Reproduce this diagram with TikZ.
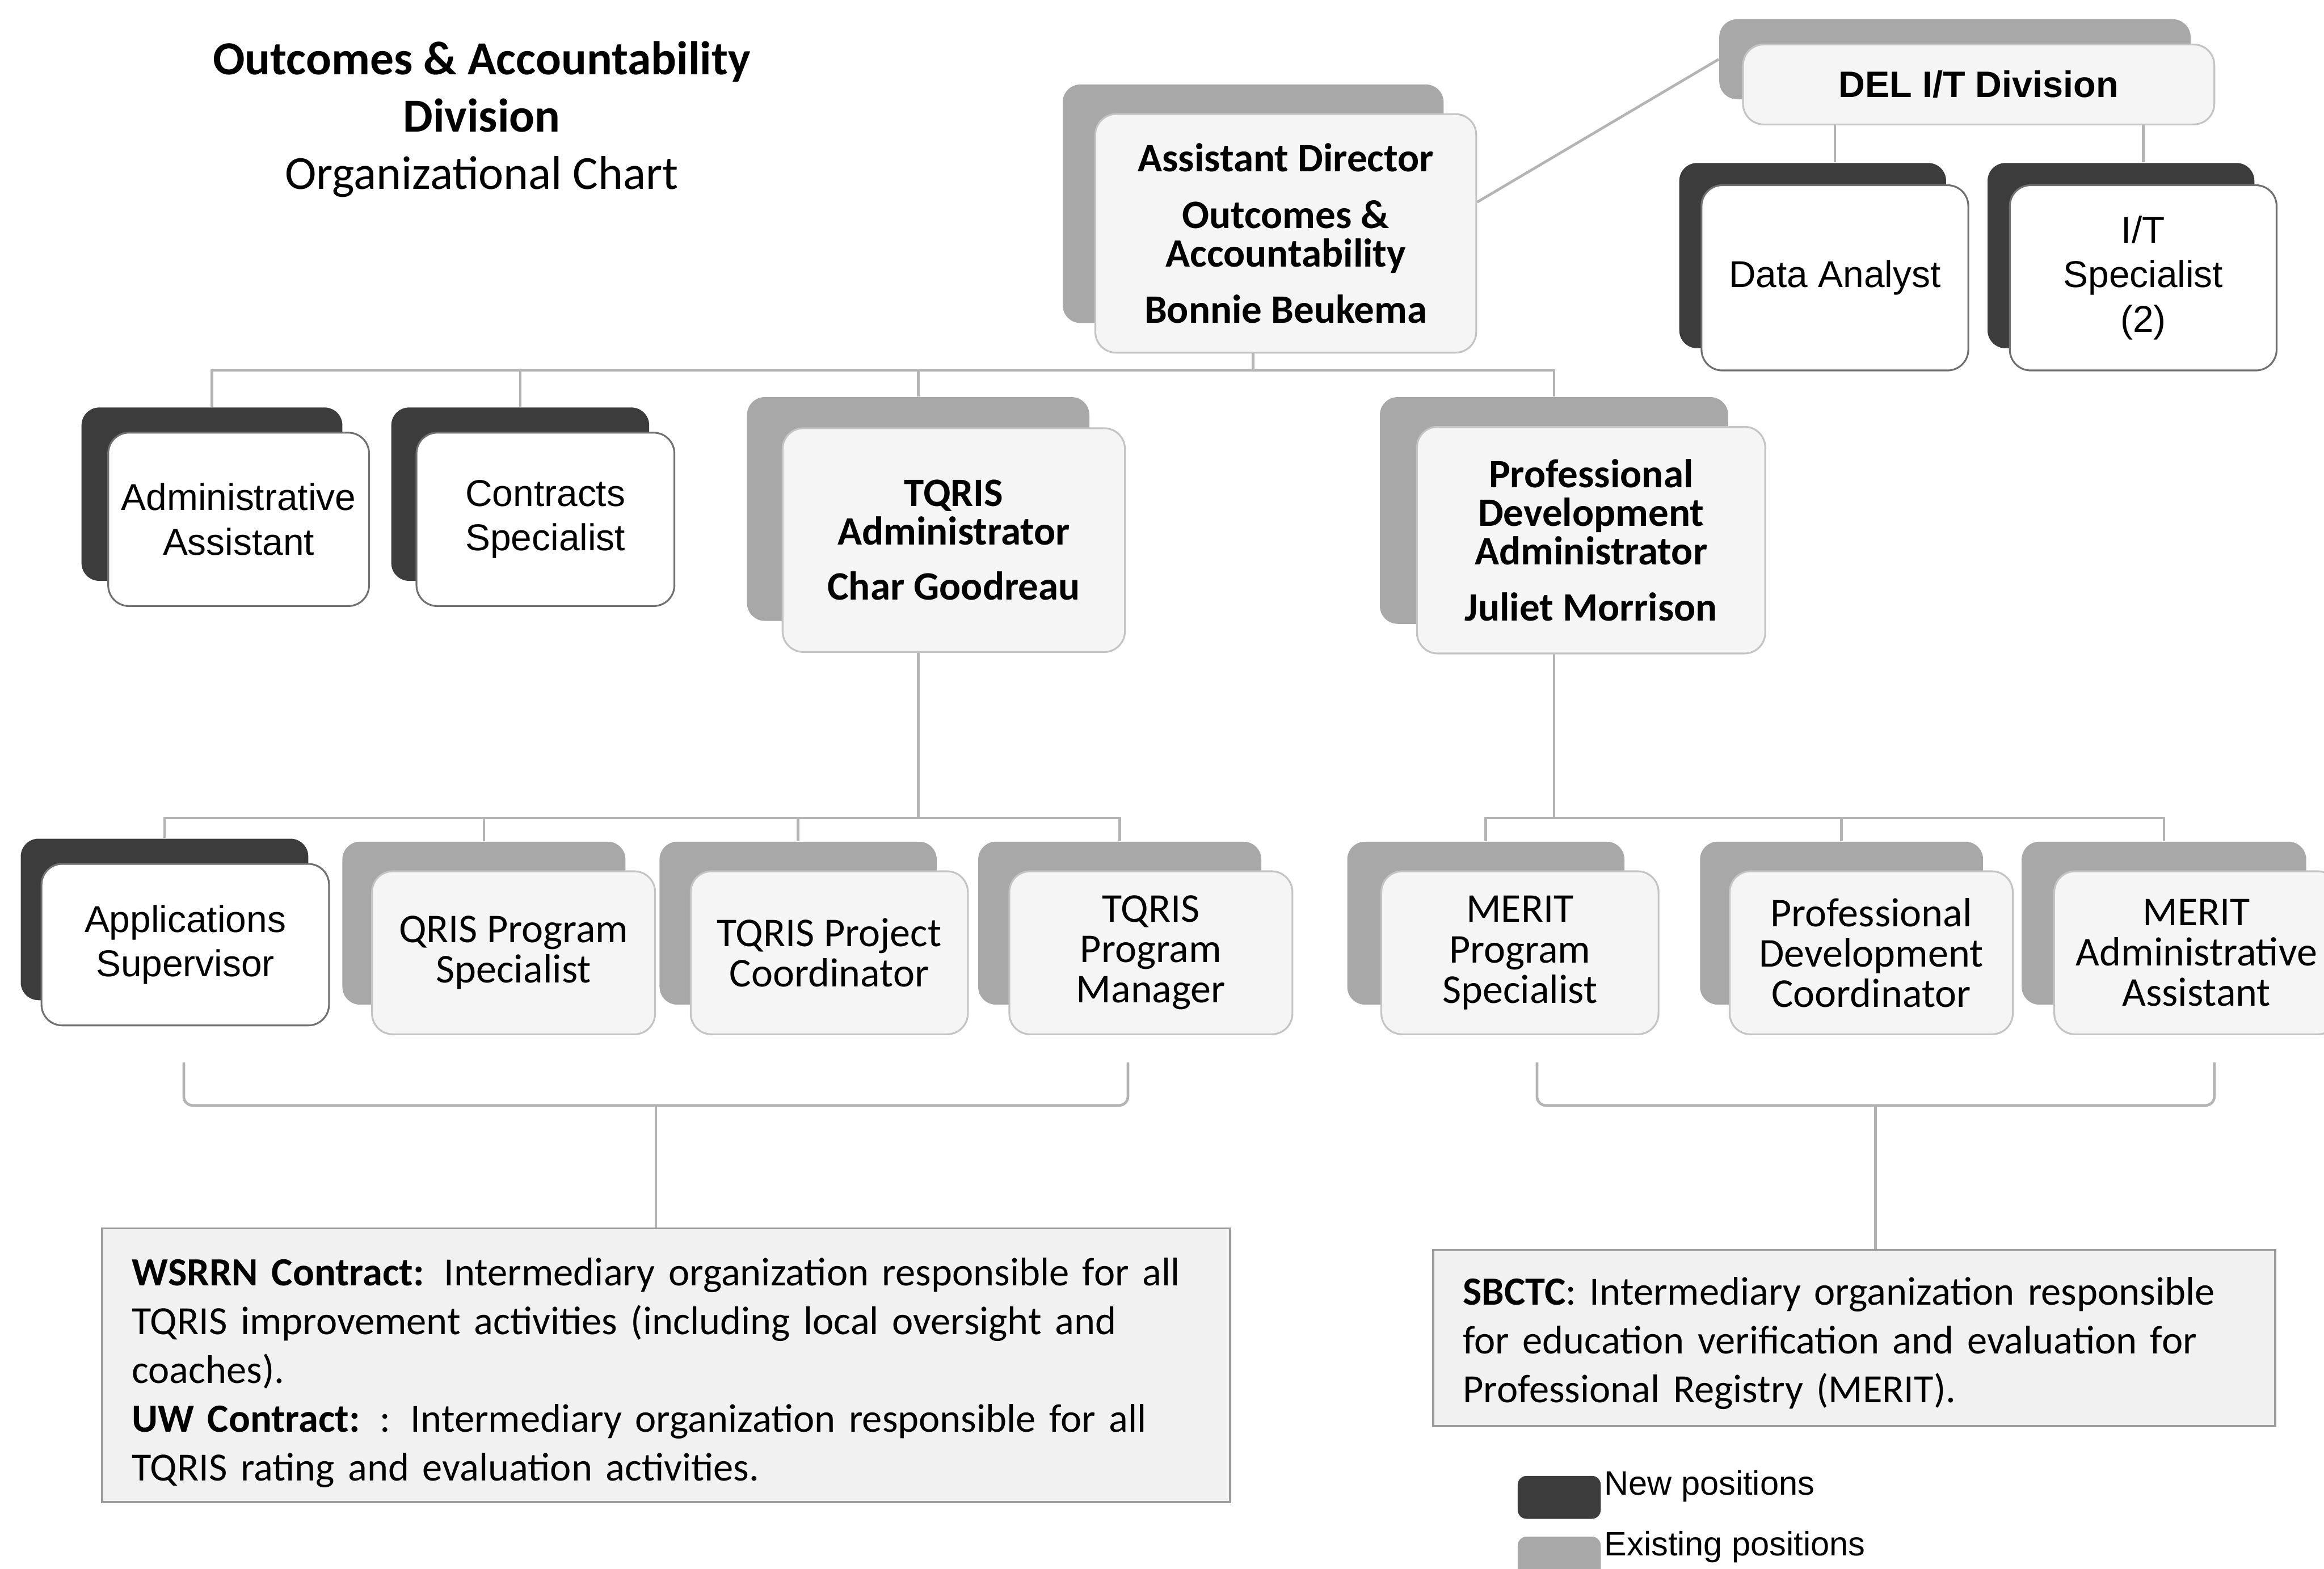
\documentclass[tikz,border=0pt]{standalone}
\usepackage{fontspec}
\setmainfont{Carlito}
\newfontfamily\arialfont{Liberation Sans}
\usetikzlibrary{calc}

\definecolor{newc}{HTML}{3C3C3C}
\definecolor{oldc}{HTML}{A8A8A8}
\definecolor{newedge}{HTML}{707070}
\definecolor{oldedge}{HTML}{C4C4C4}
\definecolor{oldfill}{HTML}{F5F5F5}
\definecolor{linkc}{HTML}{B4B4B4}
\definecolor{notefill}{HTML}{F1F1F1}
\definecolor{noteedge}{HTML}{9C9C9C}

\pgfdeclarelayer{background}
\pgfsetlayers{background,main}

\tikzset{
  conn/.style={draw=linkc, line width=0.9pt},
  shade base/.style={rounded corners=6pt, inner sep=0pt, draw=none},
  new shadow/.style={shade base, fill=newc},
  old shadow/.style={shade base, fill=oldc},
  head shadow/.style={old shadow},
  dept shadow/.style={old shadow},
  front base/.style={rounded corners=7pt, inner sep=0pt, align=center, line width=0.6pt, text=black},
  new front/.style={front base, fill=white, draw=newedge,
    font=\arialfont\fontsize{12.6}{15}\selectfont},
  old front/.style={front base, fill=oldfill, draw=oldedge,
    font=\fontsize{13.8}{13.6}\selectfont},
  head front/.style={front base, fill=oldfill, draw=oldedge,
    font=\bfseries\fontsize{13.6}{13}\selectfont},
  dept front/.style={front base, fill=oldfill, draw=oldedge,
    font=\arialfont\bfseries\fontsize{12.4}{14}\selectfont},
  note/.style={draw=noteedge, fill=notefill, line width=0.7pt, align=left,
    inner xsep=10pt, inner ysep=0pt, font=\fontsize{13.5}{16.5}\selectfont},
  swatch/.style={rounded corners=3pt, inner sep=0pt, minimum width=28pt,
    minimum height=14.5pt, draw=none},
  legendtext/.style={anchor=west, inner sep=0pt,
    font=\arialfont\fontsize{11.4}{13}\selectfont},
  titletext/.style={align=center, inner sep=0pt, font=\fontsize{16}{19.3}\selectfont},
}

% #1 name, #2 kind (new/old/head/dept), #3,#4 centre of the back plate,
% #5,#6 size, #7,#8 offset of the front plate, #9 text
\newcommand\orgbox[9]{%
  \node[#2 shadow, minimum width=#5*0.5pt, minimum height=#6*0.5pt] (#1) at (#3,#4) {};
  \node[#2 front, minimum width=#5*0.5pt, minimum height=#6*0.5pt] (#1-f) at ($(#1)+(#7,#8)$) {#9};
}

\begin{document}
\begin{tikzpicture}[x=0.5pt, y=-0.5pt]
\useasboundingbox (0,0) rectangle (1568,1058.5);
\clip (0,0) rectangle (1568,1058.5);

% title
\node[titletext] (title) at (325,80.5)
  {\textbf{Outcomes \& Accountability}\\\textbf{Division}\\Organizational Chart};

% top level
\orgbox{ad}{head}{845.5}{137.5}{257}{161}{22}{20}
  {Assistant Director\\[6pt]Outcomes \&\\Accountability\\[6pt]Bonnie Beukema}
\orgbox{del}{dept}{1319}{40}{318}{54}{16}{17}{DEL I/T Division}
\orgbox{da}{new}{1223}{172.5}{180}{125}{15}{15}{Data Analyst}
\orgbox{it}{new}{1431}{172.5}{180}{125}{15}{15}{I/T\\Specialist\\(2)}

% second level
\orgbox{aa}{new}{143}{333.5}{176}{117}{18}{17}{Administrative\\Assistant}
\orgbox{cs}{new}{351}{333.5}{174}{117}{17}{17}{Contracts\\Specialist}
\orgbox{ta}{head}{619.5}{343.5}{231}{151}{24}{21}
  {TQRIS\\Administrator\\[5.5pt]Char Goodreau}
\orgbox{pda}{head}{1048.5}{344.5}{235}{153}{25}{20}
  {Professional\\Development\\Administrator\\[6pt]Juliet Morrison}

% third level
\orgbox{as}{new}{111}{620.5}{194}{109}{14}{17}{Applications\\Supervisor}
\orgbox{qps}{old}{326.5}{623}{191}{110}{20}{20}{QRIS Program\\Specialist}
\orgbox{tpc}{old}{538.5}{623}{187}{110}{21}{20}{TQRIS Project\\Coordinator}
\orgbox{tpm}{old}{755.5}{623}{191}{110}{21}{20}{TQRIS\\Program\\Manager}
\orgbox{mps}{old}{1002.5}{623}{187}{110}{23}{20}{MERIT\\Program\\Specialist}
\orgbox{pdc}{old}{1242.5}{623}{191}{110}{20}{20}{Professional\\Development\\Coordinator}
\orgbox{maa}{old}{1460}{623}{192}{110}{22}{20}{MERIT\\Administrative\\Assistant}

% contract notes (the strut on the first line sets the text a little lower)
\node[note, text width=360.5pt, minimum height=92.3pt] (wsrrn) at (449.5,921.3)
  {\rule{0pt}{14.5pt}\textbf{WSRRN Contract:} Intermediary organization responsible for all\\
   TQRIS improvement activities (including local oversight and\\
   coaches).\\
   \textbf{UW Contract:} : Intermediary organization responsible for all\\
   TQRIS rating and evaluation activities.};
\node[note, text width=264pt, minimum height=59.5pt] (sbctc) at (1251,903)
  {\rule{0pt}{13pt}\textbf{SBCTC}: Intermediary organization responsible\\
   for education verification and evaluation for\\
   Professional Registry (MERIT).};

% legend
\node[swatch, fill=newc] (lgnew) at (1052,1010.5) {};
\node[swatch, fill=oldc] (lgold) at (1052,1051.5) {};
\node[legendtext] (lgnewt) at (1082,1003) {New positions};
\node[legendtext] (lgoldt) at (1082,1044) {Existing positions};

% reporting lines
\begin{pgfonlayer}{background}
  \coordinate (busA) at (0,250);
  \coordinate (busB) at (0,552);
  \draw[conn] (ad.south) -- (ad.south |- busA);
  \draw[conn] (aa.north) -- (aa.north |- busA) -- (pda.north |- busA) -- (pda.north);
  \draw[conn] (cs.north) -- (cs.north |- busA);
  \draw[conn] (ta.north) -- (ta.north |- busA);

  \draw[conn] (ta.south) -- (ta.south |- busB);
  \draw[conn] (as.north) -- (as.north |- busB) -- (tpm.north |- busB) -- (tpm.north);
  \draw[conn] (qps.north) -- (qps.north |- busB);
  \draw[conn] (tpc.north) -- (tpc.north |- busB);

  \draw[conn] (pda.south) -- (pda.south |- busB);
  \draw[conn] (mps.north) -- (mps.north |- busB) -- (maa.north |- busB) -- (maa.north);
  \draw[conn] (pdc.north) -- (pdc.north |- busB);

  \draw[conn] (da-f.north |- del-f.south) -- (da-f.north |- da.north);
  \draw[conn] (it-f.north |- del-f.south) -- (it-f.north |- it.north);
  \draw[conn] ($(ad-f.north east)!0.37!(ad-f.south east)$) -- (del.west);

  % brackets gathering the third level towards the contracts
  \coordinate (lbA) at (124,717);
  \coordinate (lbB) at (761,746);
  \draw[conn, rounded corners=3pt] (lbA) |- (lbB) -- (lbB |- lbA);
  \coordinate (lbM) at ($(lbA |- lbB)!0.5!(lbB)$);
  \draw[conn] (lbM) -- (lbM |- wsrrn.north);

  \coordinate (rbA) at (1037,717);
  \coordinate (rbB) at (1494,746);
  \draw[conn, rounded corners=3pt] (rbA) |- (rbB) -- (rbB |- rbA);
  \coordinate (rbM) at ($(rbA |- rbB)!0.5!(rbB)$);
  \draw[conn] (rbM) -- (rbM |- sbctc.north);
\end{pgfonlayer}
\end{tikzpicture}
\end{document}
